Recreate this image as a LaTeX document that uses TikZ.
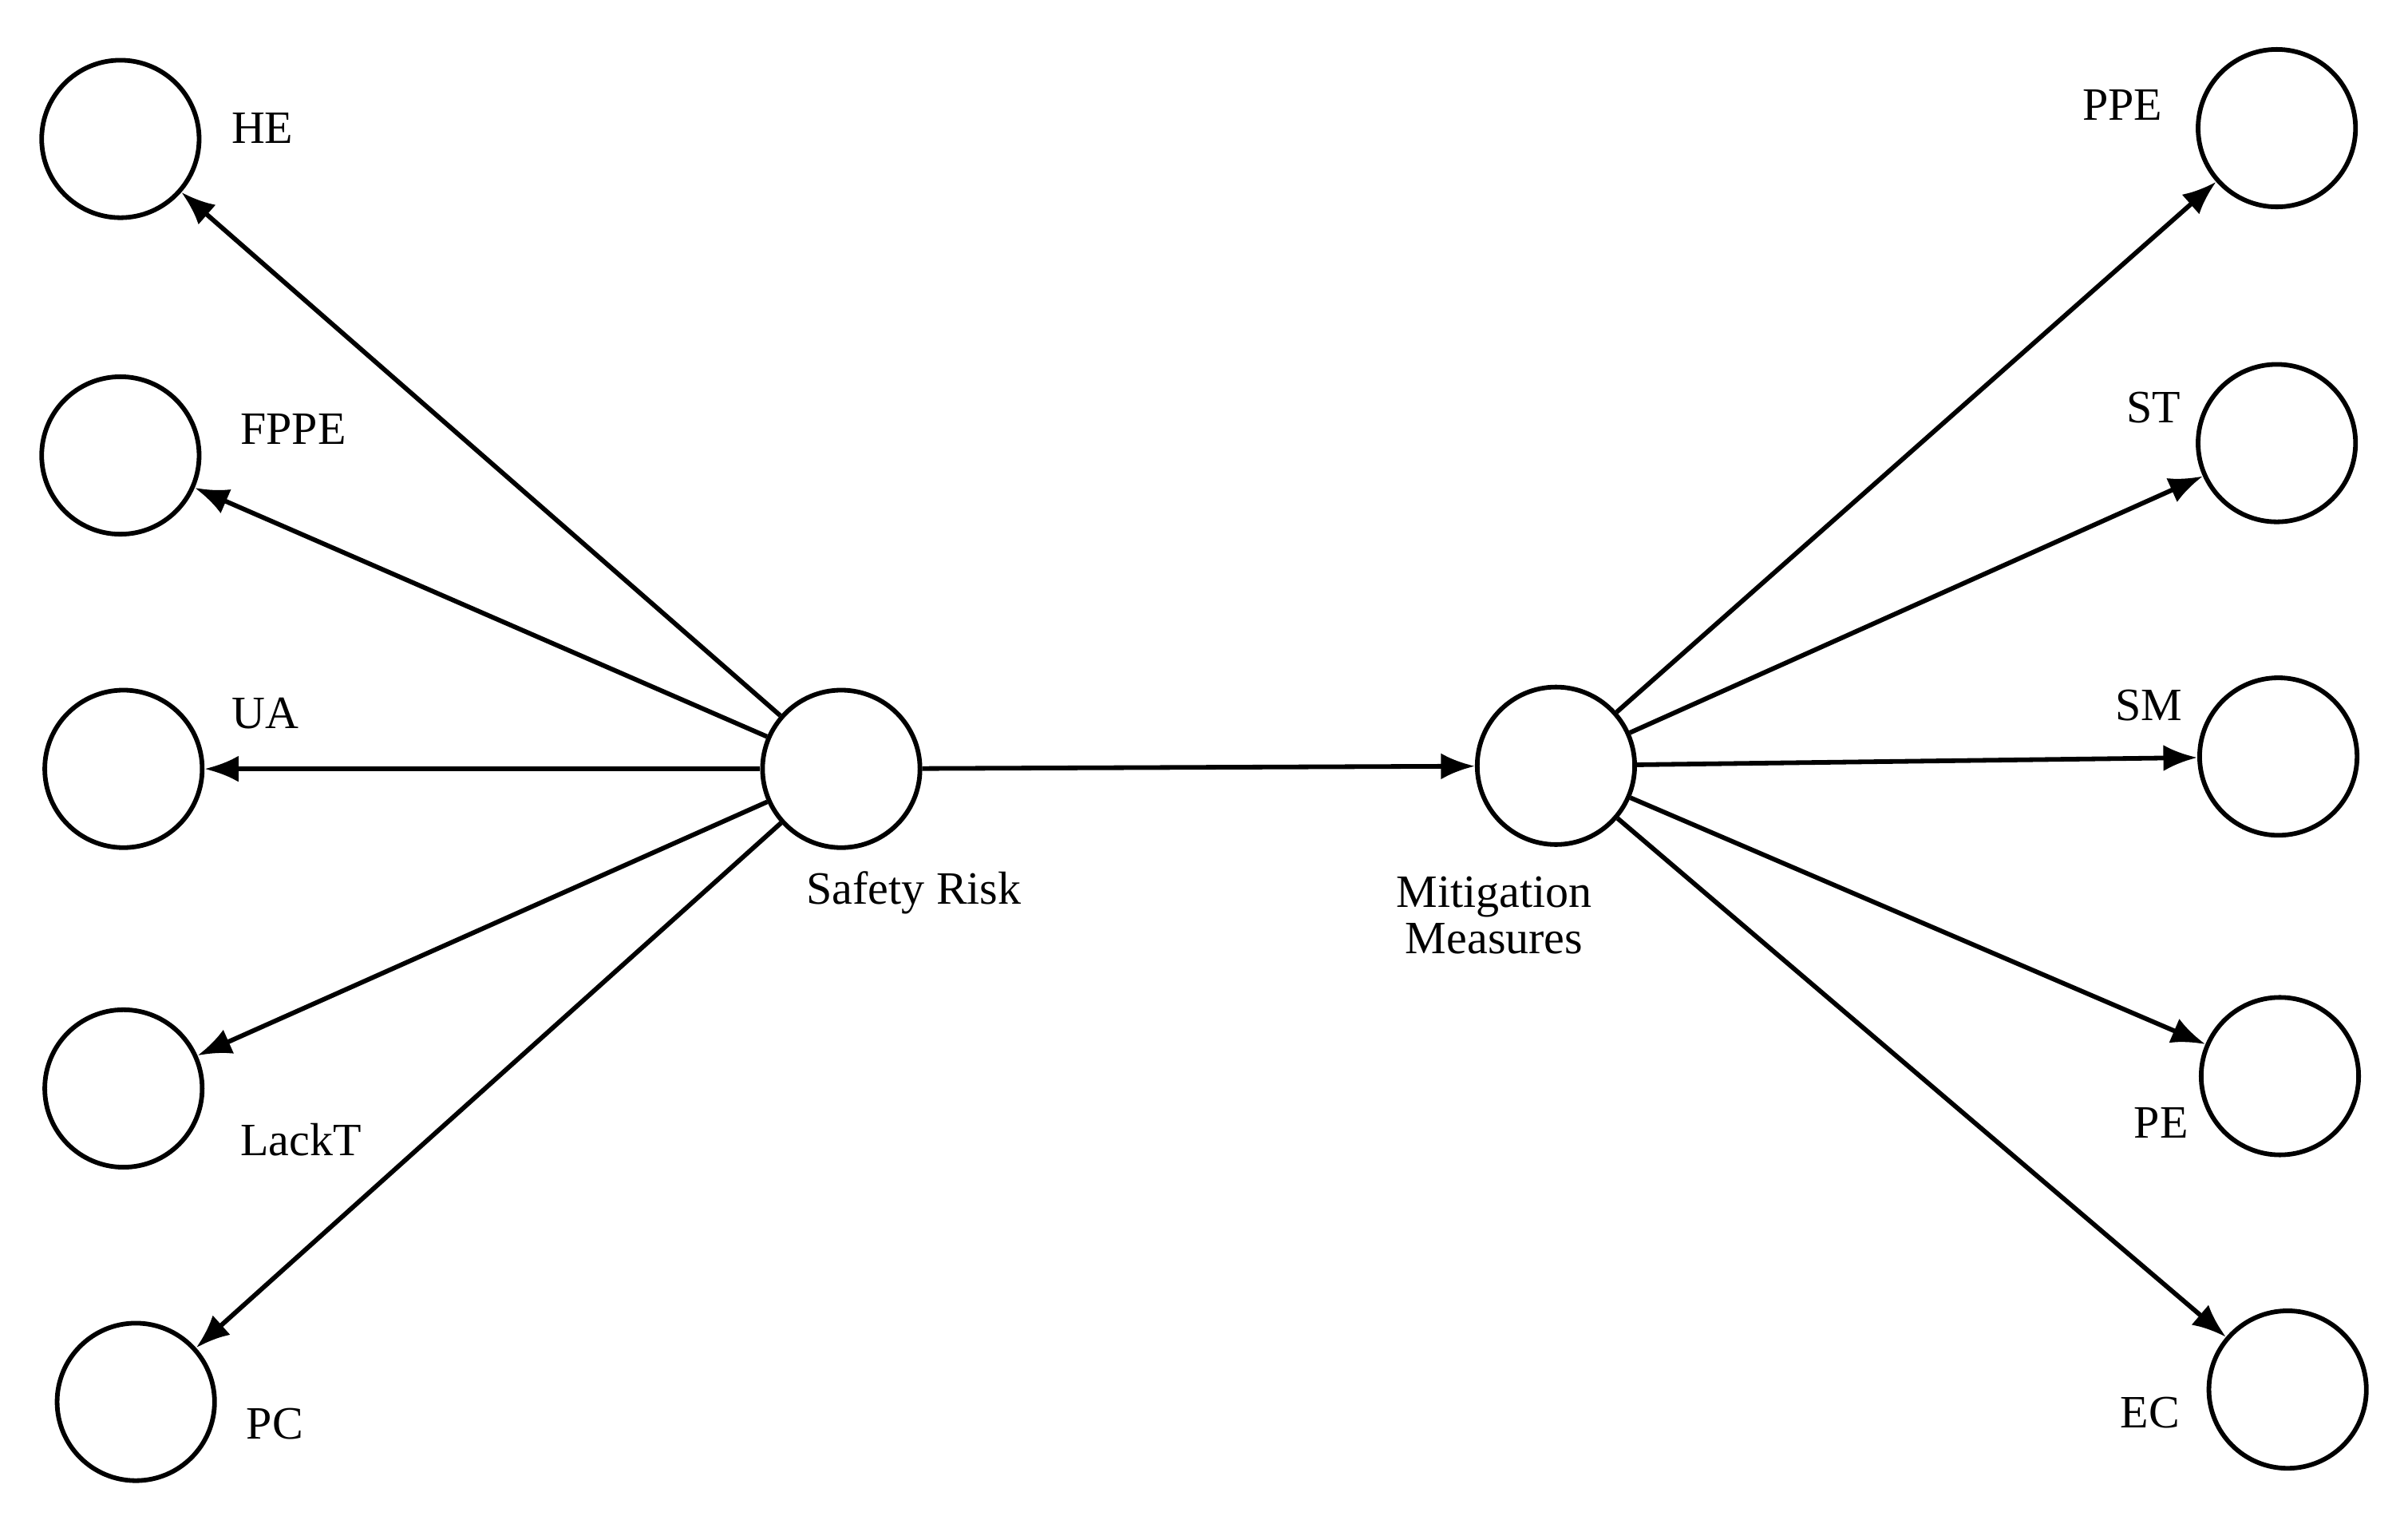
\documentclass[tikz,border=0pt]{standalone}
\usepackage{fontspec}
\setmainfont{Liberation Serif}
\usetikzlibrary{arrows.meta}
\begin{document}
\begin{tikzpicture}[x=1pt,y=-1pt,
  c/.style={circle,draw,line width=3pt,minimum size=102pt,inner sep=0pt},
  a/.style={line width=3pt,-{Latex[length=22pt,width=17pt]}},
  l/.style={font=\fontsize{30}{34}\selectfont,align=center}]
\useasboundingbox (0,0) rectangle (1560,987);
\node[c] (HE) at (78,90) {};
\node[c] (FPPE) at (78,295) {};
\node[c] (UA) at (80,498) {};
\node[c] (LT) at (80,705) {};
\node[c] (PC) at (88,908) {};
\node[c] (SR) at (545,498) {};
\node[c] (MM) at (1008,496) {};
\node[c] (PPE) at (1475,83) {};
\node[c] (ST) at (1475,287) {};
\node[c] (SM) at (1476,490) {};
\node[c] (PE) at (1477,697) {};
\node[c] (EC) at (1482,900) {};
\node[l] (tHE) at (170,83) {HE};
\node[l] (tFPPE) at (190,278) {FPPE};
\node[l] (tUA) at (172,462) {UA};
\node[l] (tLT) at (195,738) {LackT};
\node[l] (tPC) at (178,922) {PC};
\node[l] (tSR) at (592,578) {Safety Risk};
\node[l] (tMM) at (968,593) {Mitigation\\[-4pt]Measures};
\node[l] (tPPE) at (1375,68) {PPE};
\node[l] (tST) at (1395,264) {ST};
\node[l] (tSM) at (1392,457) {SM};
\node[l] (tPE) at (1400,727) {PE};
\node[l] (tEC) at (1393,915) {EC};
\foreach \t in {HE,FPPE,UA,LT,PC} \draw[a] (SR) -- (\t);
\foreach \t in {MM} \draw[a] (SR) -- (\t);
\foreach \t in {PPE,ST,SM,PE,EC} \draw[a] (MM) -- (\t);
\end{tikzpicture}
\end{document}
